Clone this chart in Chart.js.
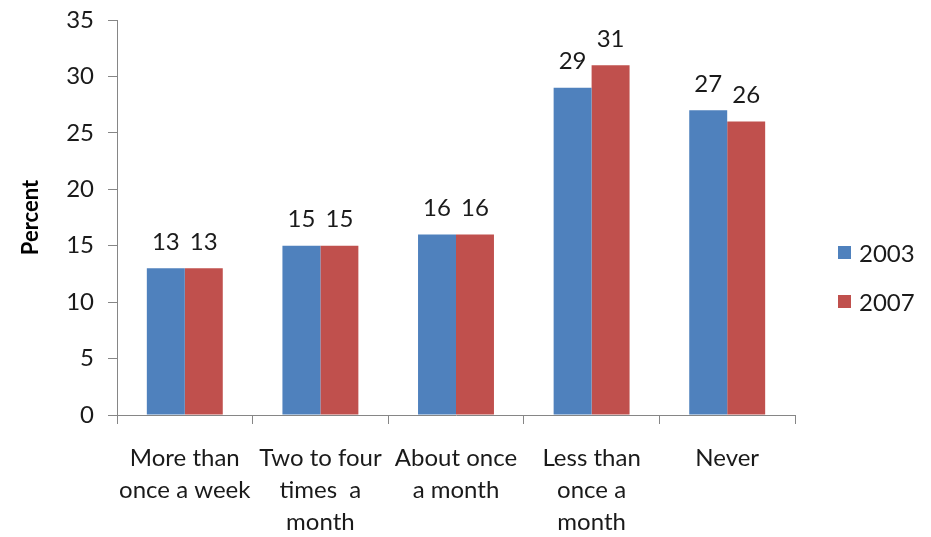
<!DOCTYPE html>
<html>
<head>
<meta charset="utf-8">
<script src="https://cdn.jsdelivr.net/npm/chart.js@4/dist/chart.umd.min.js"></script>
<style>
  html, body { margin: 0; padding: 0; background: #fff; }
  #wrap { width: 931px; height: 537px; }
</style>
</head>
<body>
<div id="wrap"><canvas id="barChart" width="931" height="537"></canvas></div>
<script>
// dados do gráfico
var categories = [
    ['More than', 'once a week'],
    ['Two to four', 'times  a', 'month'],
    ['About once', 'a month'],
    ['Less than', 'once a', 'month'],
    ['Never']
];
var series2003 = [13, 15, 16, 29, 27];
var series2007 = [13, 15, 16, 31, 26];
var seriesNames = ['2003', '2007'];
var seriesColors = ['#4F81BD', '#C0504D'];
var yTicks = [0, 5, 10, 15, 20, 25, 30, 35];

var fontFamily = 'Lato, "Open Sans", sans-serif';
var fontSize = 24;

// rótulos de valor acima das barras
var valueLabels = {
    id: 'valueLabels',
    afterDatasetsDraw: function (chart) {
        var ctx = chart.ctx;
        ctx.save();
        ctx.font = fontSize + 'px ' + fontFamily;
        ctx.fillStyle = '#1a1a1a';
        ctx.textAlign = 'center';
        ctx.textBaseline = 'middle';
        chart.data.datasets.forEach(function (ds, i) {
            chart.getDatasetMeta(i).data.forEach(function (bar, j) {
                ctx.fillText(ds.data[j], bar.x, bar.y - 26);
            });
        });
        ctx.restore();
    }
};

// legenda à direita
var sideLegend = {
    id: 'sideLegend',
    afterDraw: function (chart) {
        var ctx = chart.ctx;
        ctx.save();
        ctx.font = fontSize + 'px ' + fontFamily;
        ctx.textBaseline = 'middle';
        ctx.textAlign = 'left';
        chart.data.datasets.forEach(function (ds, i) {
            var y = 253 + i * 49;
            ctx.fillStyle = ds.backgroundColor;
            ctx.fillRect(838, y - 7, 13, 13);
            ctx.fillStyle = '#1a1a1a';
            ctx.fillText(ds.label, 859, y + 1);
        });
        ctx.restore();
    }
};

var barChart = new Chart(document.getElementById('barChart').getContext('2d'), {
    type: 'bar',
    data: {
        labels: categories,
        datasets: [
            { label: seriesNames[0], data: series2003, backgroundColor: seriesColors[0] },
            { label: seriesNames[1], data: series2007, backgroundColor: seriesColors[1] }
        ]
    },
    options: {
        responsive: false,
        animation: false,
        layout: { padding: { top: 20, right: 136, left: 0, bottom: 0 } },
        datasets: { bar: { categoryPercentage: 0.56, barPercentage: 1.0 } },
        plugins: {
            legend: { display: false },
            tooltip: { enabled: false }
        },
        scales: {
            x: {
                grid: { display: true, drawOnChartArea: false, drawTicks: true, tickLength: 9, color: '#868686', offset: true },
                border: { display: true, color: '#868686' },
                ticks: { color: '#1a1a1a', font: { family: fontFamily, size: fontSize, lineHeight: 1.34 }, maxRotation: 0, autoSkip: false, padding: 18 },
                afterFit: function (s) { s.height = 122; }
            },
            y: {
                min: 0,
                max: 35,
                afterBuildTicks: function (s) { s.ticks = yTicks.map(function (v) { return { value: v }; }); },
                grid: { display: true, drawOnChartArea: false, drawTicks: true, tickLength: 9, color: '#868686' },
                border: { display: true, color: '#868686' },
                ticks: { color: '#1a1a1a', font: { family: fontFamily, size: fontSize, lineHeight: 0.6 }, padding: 14 },
                title: { display: true, text: 'Percent', color: '#000', font: { family: fontFamily, size: 22, weight: 'bold' }, padding: { top: 18, bottom: 0 } },
                afterFit: function (s) { s.width = 117; s.paddingTop = 0; s.paddingBottom = 0; }
            }
        }
    },
    plugins: [valueLabels, sideLegend]
});
</script>
</body>
</html>
